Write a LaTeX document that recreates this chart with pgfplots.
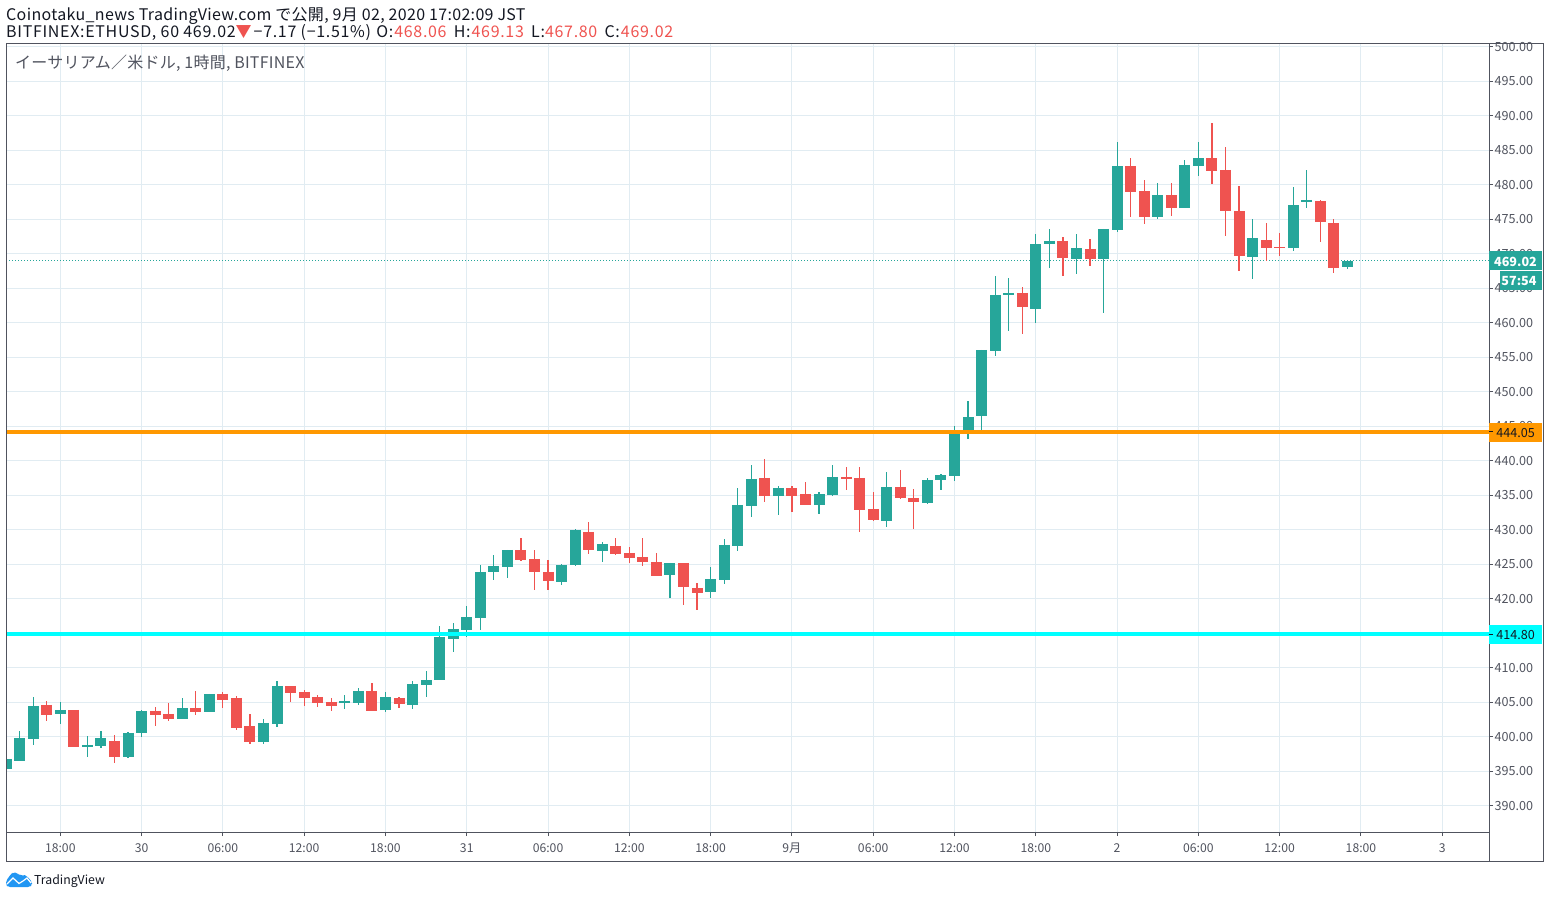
\documentclass[border=0pt]{standalone}
\usepackage{fontspec}
\usepackage{pgfplots}
\usepackage{pgfplotstable}
\pgfplotsset{compat=1.18}
\setmainfont{Noto Sans CJK JP}
\definecolor{up}{HTML}{26A69A}
\definecolor{down}{HTML}{EF5350}
\definecolor{gridc}{HTML}{E1ECF2}
\definecolor{framec}{HTML}{50535E}
\definecolor{lblc}{HTML}{50535E}
\definecolor{txt}{HTML}{131722}
\definecolor{orangeL}{HTML}{FF9800}
\definecolor{cyanL}{HTML}{00FFFF}
\definecolor{tvblue}{HTML}{2196F3}

\pgfplotstableread{
x open high low close
0 395.34 396.79 395.34 396.79
1 396.50 400.85 396.50 399.83
2 399.69 405.77 398.82 404.47
4 403.31 405.05 401.86 403.89
6 398.53 400.12 397.08 398.82
7 398.67 400.85 398.38 399.83
9 397.08 400.70 396.93 400.56
10 400.56 403.89 399.98 403.74
13 402.58 405.63 402.58 404.18
15 403.60 406.21 403.60 406.21
19 399.25 402.58 398.96 402.00
20 401.86 408.09 401.43 407.37
25 404.90 406.06 404.03 405.19
26 404.90 407.08 404.61 406.64
28 403.89 406.50 403.60 405.77
30 404.61 408.09 404.03 407.66
31 407.51 409.54 405.77 408.24
32 408.24 416.06 408.24 414.47
33 414.18 416.50 412.29 415.63
34 415.48 418.96 414.47 417.37
35 417.22 424.90 415.48 423.89
36 423.89 426.35 422.73 424.76
37 424.61 427.08 423.02 427.08
41 422.44 425.05 422.00 424.90
42 424.90 430.12 424.76 429.98
44 426.93 428.24 425.34 427.95
49 423.45 425.19 420.12 425.19
52 420.99 424.61 420.12 422.87
53 422.73 428.67 422.15 427.80
54 427.66 436.06 426.93 433.60
55 433.45 439.40 431.86 437.37
57 434.90 436.35 432.15 436.06
60 433.60 435.48 432.30 435.19
61 435.05 439.40 434.90 437.66
65 431.28 438.38 430.41 436.21
68 433.89 437.51 433.74 437.22
69 437.22 438.09 435.77 437.94
70 437.80 445.04 437.07 444.46
71 444.17 448.67 443.16 446.35
72 446.49 456.06 444.46 456.06
73 455.91 466.78 455.19 464.03
74 464.03 466.49 458.81 464.32
76 462.00 472.87 459.97 471.42
77 471.42 473.60 467.94 471.86
79 469.25 472.87 467.07 470.84
81 469.25 473.60 461.42 473.60
82 473.45 486.20 473.16 482.72
85 475.33 480.26 475.04 478.52
87 476.64 483.59 476.64 482.87
88 482.72 486.20 481.28 483.88
92 469.54 475.04 466.35 472.29
95 470.84 479.68 470.41 477.07
96 477.51 482.15 476.64 477.80
99 468.06 469.13 467.80 469.02
}\upbars

\pgfplotstableread{
x open high low close
3 404.61 405.19 402.29 403.16
5 403.89 403.89 398.53 398.53
8 399.40 400.27 396.21 397.08
11 403.74 404.32 401.57 403.16
12 403.31 404.90 402.29 402.58
14 404.18 406.64 403.16 403.60
16 406.21 406.50 404.18 405.34
17 405.63 405.92 400.99 401.28
18 401.57 403.31 398.96 399.25
21 407.37 407.37 405.05 406.35
22 406.50 406.79 404.47 405.63
23 405.77 406.06 404.32 404.90
24 405.05 405.63 403.74 404.47
27 406.64 407.80 403.74 403.74
29 405.63 405.77 404.18 404.76
38 427.08 428.82 425.48 425.63
39 425.77 427.08 421.28 423.89
40 423.89 425.63 421.28 422.58
43 429.69 431.14 426.50 427.08
45 427.66 428.82 426.35 426.50
46 426.64 427.51 425.19 425.92
47 426.06 428.82 424.76 425.34
48 425.34 426.64 423.31 423.31
50 425.19 425.19 419.11 421.71
51 421.57 422.29 418.38 420.85
56 437.51 440.27 434.03 434.90
58 436.06 436.35 432.58 434.90
59 435.19 436.93 433.60 433.60
62 437.66 439.11 435.77 437.37
63 437.51 439.11 429.69 432.87
64 433.02 435.48 431.28 431.43
66 436.21 438.67 434.47 434.61
67 434.61 435.92 430.12 434.03
75 464.32 465.19 458.38 462.29
78 471.86 472.43 466.78 469.39
80 470.70 472.14 468.23 469.25
83 482.72 483.88 475.33 478.96
84 479.10 480.70 474.32 475.33
86 478.52 480.26 475.48 476.64
89 483.88 488.96 480.12 482.00
90 482.15 485.48 472.58 476.20
91 476.20 479.83 467.51 469.68
93 472.00 474.46 468.96 470.84
94 470.99 473.01 469.68 470.84
97 477.65 477.80 471.71 474.61
98 474.46 475.04 467.22 467.94
}\downbars

\begin{document}
\begin{tikzpicture}[x=1pt,y=1pt]
\path[use as bounding box] (0,0) rectangle (1550,898);
\begin{axis}[
  at={(6.5pt,66pt)}, anchor=south west,
  scale only axis, width=1482.5pt, height=788.5pt,
  xmin=0.03, xmax=109.45, ymin=386.2, ymax=500.48,
  axis line style={draw=framec, line width=1pt},
  xtick={4,10,16,22,28,34,40,46,52,58,64,70,76,82,88,94,100,106},
  xticklabels={18:00,30,06:00,12:00,18:00,31,06:00,12:00,18:00,9月,06:00,12:00,18:00,2,06:00,12:00,18:00,3},
  ytick={390,395,...,500},
  xmajorgrids, ymajorgrids,
  grid style={draw=gridc, line width=1pt},
  tick align=outside, major tick length=4pt,
  tick style={draw=framec, line width=1pt},
  xtick pos=bottom, ytick pos=right,
  yticklabel pos=right,
  xticklabel style={font=\fontsize{12.2}{14}\selectfont, text=lblc, inner sep=0pt, anchor=center, yshift=-12pt},
  yticklabel style={font=\fontsize{12.6}{14}\selectfont, text=lblc, inner sep=0pt, anchor=west, xshift=1.5pt,
    /pgf/number format/.cd, fixed, fixed zerofill, precision=2, assume math mode=true},
  /pgf/number format/assume math mode=true,
]
% last price
\addplot[up, line width=1pt, dash pattern=on 1pt off 2pt, forget plot] coordinates {(0,469.02)(110,469.02)};
% wicks
\addplot[draw=none, mark=none, forget plot, error bars/.cd, y dir=both, y explicit, error mark=none,
   error bar style={draw=up, line width=1.2pt}]
   table[x=x, y=close, y error plus expr=\thisrow{high}-\thisrow{close}, y error minus expr=\thisrow{close}-\thisrow{low}] {\upbars};
\addplot[draw=none, mark=none, forget plot, error bars/.cd, y dir=both, y explicit, error mark=none,
   error bar style={draw=down, line width=1.2pt}]
   table[x=x, y=close, y error plus expr=\thisrow{high}-\thisrow{close}, y error minus expr=\thisrow{close}-\thisrow{low}] {\downbars};
% bodies
\addplot[draw=none, mark=none, forget plot, error bars/.cd, y dir=minus, y explicit, error mark=none,
   error bar style={draw=up, line width=11pt}]
   table[x=x, y=close, y error minus expr=\thisrow{close}-\thisrow{open}] {\upbars};
\addplot[draw=none, mark=none, forget plot, error bars/.cd, y dir=minus, y explicit, error mark=none,
   error bar style={draw=down, line width=11pt}]
   table[x=x, y=open, y error minus expr=\thisrow{open}-\thisrow{close}] {\downbars};
% level lines
\addplot[orangeL, line width=4pt, forget plot] coordinates {(0,444.17)(110,444.17)};
\addplot[cyanL, line width=4pt, forget plot] coordinates {(0,414.9)(110,414.9)};
\end{axis}
% outer frame
\draw[framec, line width=1pt] (6.5,37) rectangle (1543.5,854.5);
\draw[framec, line width=1pt] (1489,37) -- (1489,66);
% header
\node[anchor=base west, inner sep=0pt, text=txt] at (6,877) {\fontsize{16}{18}\selectfont\addfontfeatures{LetterSpace=2.1}Coinotaku\_news TradingView.com で公開, 9月 02, 2020 17:02:09 JST};
\node[anchor=base west, inner sep=0pt, text=txt] at (6,860) {\fontsize{16}{18}\selectfont\addfontfeatures{LetterSpace=4.3}BITFINEX:ETHUSD, 60 469.02\textcolor{down}{▼}\hspace{2pt}−7.17 (−1.51\%) \hspace{1pt}O:\hspace{1pt}\textcolor{down}{468.06} \hspace{3pt}H:\hspace{1pt}\textcolor{down}{469.13} \hspace{3pt}L:\textcolor{down}{467.80} \hspace{3pt}C:\hspace{1pt}\textcolor{down}{469.02}};
\node[anchor=base west, inner sep=0pt, text=lblc] at (15,829) {\fontsize{16}{18}\selectfont\addfontfeatures{LetterSpace=1.5}イーサリアム／米ドル, 1時間, BITFINEX};
% price labels
\fill[up] (1489,628) rectangle (1542,647);
\node[text=white, font=\fontsize{12.6}{14}\selectfont\bfseries, inner sep=0pt] at (1515.5,636.5) {469.02};
\fill[up] (1500,608) rectangle (1542,627);
\node[text=white, font=\fontsize{12.6}{14}\selectfont\bfseries, inner sep=0pt] at (1519,616.5) {57:54};
\fill[orangeL] (1489,456) rectangle (1542,475);
\draw[txt, line width=1pt] (1489,466) -- (1493,466);
\node[text=txt, font=\fontsize{12.6}{14}\selectfont, inner sep=0pt] at (1515.5,464.5) {444.05};
\fill[cyanL] (1489,254) rectangle (1542,273);
\draw[txt, line width=1pt] (1489,264) -- (1493,264);
\node[text=txt, font=\fontsize{12.6}{14}\selectfont, inner sep=0pt] at (1515.5,262.5) {414.80};
% logo
\fill[tvblue, rounded corners=2pt] (6,13) -- (6,17) -- (11,24) -- (13,25.5) -- (17,25.5) -- (20,22) -- (23,23.5) -- (27,22) -- (32,16) -- (32,13) -- (30,11) -- (8,11) -- cycle;
\draw[white, line width=1.2pt] (7,14) -- (13,20) -- (19,14.5) -- (23,17) -- (27,20) -- (31,15);
\node[anchor=base west, inner sep=0pt, text=txt] at (34,14) {\fontsize{12.3}{14}\selectfont TradingView};
\end{tikzpicture}
\end{document}
